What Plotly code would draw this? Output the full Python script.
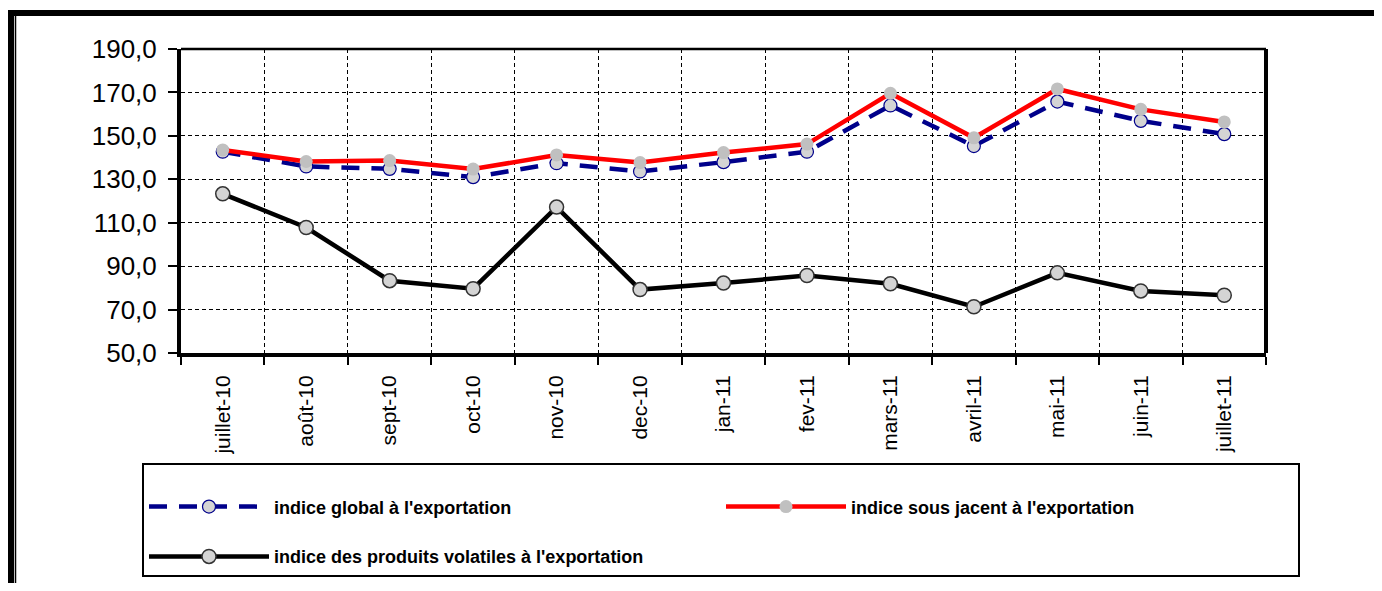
import plotly.graph_objects as go

# data
mois = ["juillet-10", "août-10", "sept-10", "oct-10", "nov-10", "dec-10", "jan-11",
        "fev-11", "mars-11", "avril-11", "mai-11", "juin-11", "juillet-11"]
indice_global = [142.7, 135.9, 134.8, 131.0, 137.4, 133.6, 137.9,
                 142.7, 164.0, 145.3, 165.8, 156.9, 150.8]
indice_sous_jacent = [143.5, 138.2, 138.6, 134.7, 141.2, 137.7, 142.3,
                      146.2, 169.6, 149.1, 171.6, 162.2, 156.4]
indice_volatiles = [123.3, 107.8, 83.3, 79.6, 117.2, 79.2, 82.2,
                    85.7, 81.9, 71.3, 86.9, 78.6, 76.6]
y_ticks = [50, 70, 90, 110, 130, 150, 170, 190]

# page body has an 8px margin, so the figure is shrunk and shifted to fit
OFF = 8
W, H = 1382 - 2 * OFF, 591 - 2 * OFF
L, R, T, B = 181 - OFF, 116 - OFF, 49 - OFF, 238 - OFF
pw, ph = W - L - R, H - T - B


def px_x(x):
    # screen pixel -> paper coordinates (frame decoration only)
    return (x - OFF - L) / pw


def px_y(y):
    return (H - B - (y - OFF)) / ph


fig = go.Figure()
fig.add_trace(go.Scatter(
    x=mois, y=indice_global, mode="lines+markers",
    name=" <br>indice global à l'exportation",
    line=dict(color="#00008b", width=4.5, dash="18px,12px"),
    marker=dict(symbol="circle", size=13, color="#d4d4d4",
                line=dict(color="#00008b", width=1.2)),
))
fig.add_trace(go.Scatter(
    x=mois, y=indice_sous_jacent, mode="lines+markers",
    name=" <br>indice sous jacent à l'exportation",
    line=dict(color="#ff0000", width=4.5),
    marker=dict(symbol="circle", size=13, color="#c0c0c0",
                line=dict(color="#c0c0c0", width=0)),
))
fig.add_trace(go.Scatter(
    x=mois, y=indice_volatiles, mode="lines+markers",
    name=" <br>indice des produits volatiles à l'exportation",
    line=dict(color="#000000", width=4.5),
    marker=dict(symbol="circle", size=14, color="#d4d4d4",
                line=dict(color="#333333", width=1.5)),
))

# outer frame (top and left, cropped in the reference)
frame = dict(type="line", xref="paper", yref="paper", layer="above")
fig.add_shape(**frame, x0=px_x(6), x1=px_x(1400), y0=px_y(13), y1=px_y(13),
              line=dict(color="black", width=6))
fig.add_shape(**frame, x0=px_x(11), x1=px_x(11), y0=px_y(10), y1=px_y(600),
              line=dict(color="black", width=6))
fig.add_shape(**frame, x0=px_x(15.5), x1=px_x(15.5), y0=px_y(16), y1=px_y(600),
              line=dict(color="black", width=1.5))

fig.update_layout(
    width=W, height=H,
    margin=dict(l=L, r=R, t=T, b=B, autoexpand=False),
    paper_bgcolor="white", plot_bgcolor="white",
    separators=", ",
    font=dict(family="Liberation Sans, Arial", color="black"),
    showlegend=True,
    legend=dict(
        orientation="h", x=px_x(142), y=px_y(463), xanchor="left", yanchor="top",
        bordercolor="black", borderwidth=2, bgcolor="white",
        entrywidth=442, entrywidthmode="pixels", valign="bottom",
        font=dict(family="Liberation Sans, Arial", size=18, color="black", weight="bold"),
        itemwidth=120,
    ),
)
fig.update_xaxes(
    type="category", tickson="boundaries", tickangle=-90,
    showline=True, linecolor="black", linewidth=4, mirror=False,
    ticks="outside", ticklen=8, tickcolor="black", tickwidth=1.5,
    ticklabelstandoff=10,
    showgrid=True, gridcolor="black", gridwidth=1.2, griddash="4px,3px",
    tickfont=dict(size=21, family="Liberation Sans, Arial"),
    range=[-0.5, len(mois) - 0.5],
)
fig.update_yaxes(
    range=[50, 190], tickvals=y_ticks, tickformat=".1f",
    showline=True, linecolor="black", linewidth=4,
    ticks="outside", ticklen=9, tickcolor="black", tickwidth=1.5,
    ticklabelstandoff=6,
    showgrid=True, gridcolor="black", gridwidth=1.2, griddash="4px,3px",
    tickfont=dict(size=26, family="Liberation Sans, Arial"),
    zeroline=False,
)
# plot area border (top and right)
fig.add_shape(type="line", xref="paper", yref="paper", x0=0, x1=1, y0=1, y1=1,
              line=dict(color="black", width=2.5), layer="above")
fig.add_shape(type="line", xref="paper", yref="paper", x0=1, x1=1, y0=0, y1=1,
              line=dict(color="black", width=4), layer="above")

fig.write_html("out.html")
